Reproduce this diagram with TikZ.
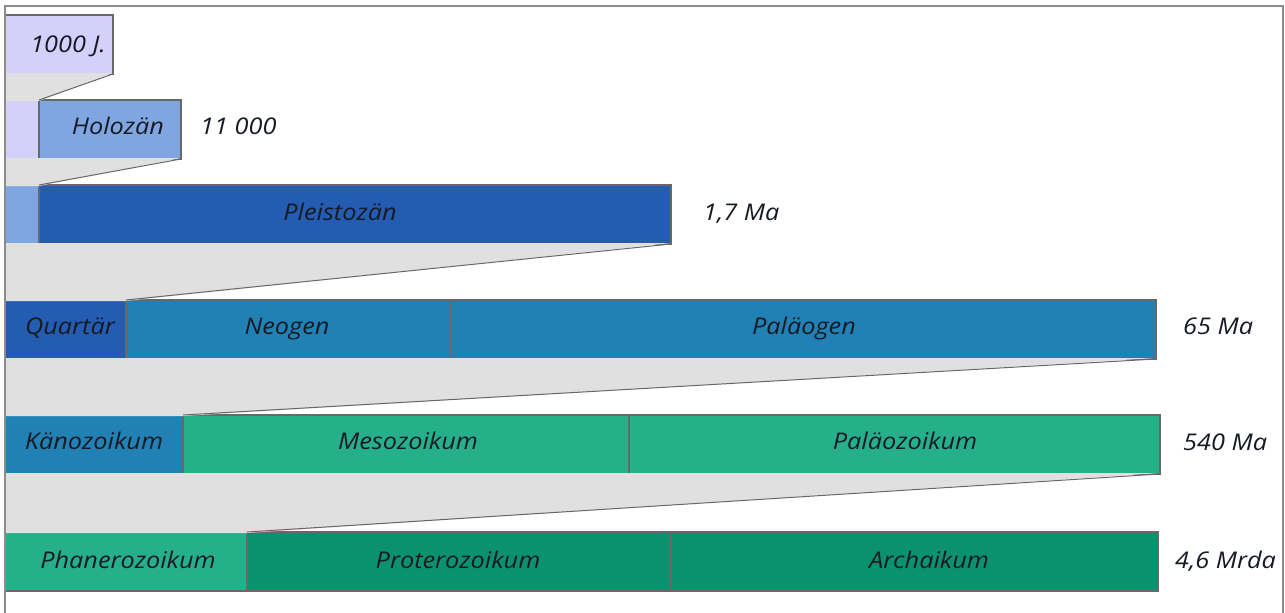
\documentclass[tikz,border=0pt]{standalone}
\usepackage{fontspec}
\setmainfont[FakeStretch=1.1]{Open Sans}
\definecolor{lav}{HTML}{D3D0FA}
\definecolor{holo}{HTML}{80A6E2}
\definecolor{plei}{HTML}{235CB0}
\definecolor{neo}{HTML}{2180B4}
\definecolor{meso}{HTML}{25B089}
\definecolor{arch}{HTML}{0A926E}
\definecolor{shade}{HTML}{E0E0E0}
\definecolor{segline}{HTML}{686868}
\definecolor{frameline}{HTML}{8C8C8C}
\definecolor{txt}{HTML}{161A24}
\begin{document}
\begin{tikzpicture}[x=1pt,y=-1pt,
  seg/.style={draw=segline, line width=2pt, inner sep=0pt, outer sep=0pt,
    anchor=north west, minimum height=59pt},
  lbl/.style={text=txt, font=\fontsize{23}{26}\selectfont\itshape, inner sep=0pt, anchor=base},
  age/.style={lbl, anchor=base west},
  slant/.style={draw=segline, line width=1pt},
  gap/.style={fill=shade}]
\useasboundingbox (0,0) rectangle (1285,613);
\fill[white] (0,0) rectangle (1285,613);
% row 1
\node[seg, fill=lav, minimum width=108pt] (ja) at (5,15) {};
% row 2
\node[seg, fill=lav, minimum width=34pt] (hb) at (5,100) {};
\node[seg, fill=holo, minimum width=142pt] (ho) at (39,100) {};
% row 3
\node[seg, fill=holo, minimum width=34pt] (pb) at (5,185) {};
\node[seg, fill=plei, minimum width=632pt] (pl) at (39,185) {};
% row 4
\node[seg, fill=plei, minimum width=121pt] (qu) at (5,300) {};
\node[seg, fill=neo, minimum width=325pt] (ne) at (126,300) {};
\node[seg, fill=neo, minimum width=705pt] (pg) at (451,300) {};
% row 5
\node[seg, fill=neo, minimum width=178pt] (ka) at (5,415) {};
\node[seg, fill=meso, minimum width=446pt] (me) at (183,415) {};
\node[seg, fill=meso, minimum width=531pt] (pz) at (629,415) {};
% row 6
\node[seg, fill=meso, minimum width=242pt] (ph) at (5,532) {};
\node[seg, fill=arch, minimum width=423pt] (pr) at (247,532) {};
\node[seg, fill=arch, minimum width=488pt] (ar) at (670,532) {};
% gaps
\fill[gap] ([yshift=1pt]ja.south west) -- ([yshift=1pt]ja.south east) -- ([yshift=-1pt]hb.north east) -- ([yshift=-1pt]hb.north west) -- cycle;
\fill[gap] ([yshift=1pt]hb.south west) -- ([yshift=1pt]ho.south east) -- ([yshift=-1pt]pb.north east) -- ([yshift=-1pt]pb.north west) -- cycle;
\fill[gap] ([yshift=1pt]pb.south west) -- ([yshift=1pt]pl.south east) -- ([yshift=-1pt]qu.north east) -- ([yshift=-1pt]qu.north west) -- cycle;
\fill[gap] ([yshift=1pt]qu.south west) -- ([yshift=1pt]pg.south east) -- ([yshift=-1pt]ka.north east) -- ([yshift=-1pt]ka.north west) -- cycle;
\fill[gap] ([yshift=1pt]ka.south west) -- ([yshift=1pt]pz.south east) -- ([yshift=-1pt]ph.north east) -- ([yshift=-1pt]ph.north west) -- cycle;
\draw[slant] (ja.south east) -- (hb.north east);
\draw[slant] (ho.south east) -- (pb.north east);
\draw[slant] (pl.south east) -- (qu.north east);
\draw[slant] (pg.south east) -- (ka.north east);
\draw[slant] (pz.south east) -- (ph.north east);
% frame
\coordinate (fbl) at (5,613);
\coordinate (ftl) at (5,6);
\coordinate (ftr) at (1283,6);
\coordinate (fbr) at (1283,613);
\draw[frameline, line width=2pt] (fbl) -- (ftl) -- (ftr) -- (fbr);
% labels
\node[lbl] (tja) at (68,52) {1000 J.};
\node[lbl] (tho) at (118,134.5) {Holozän};
\node[lbl] (tpl) at (340,220) {Pleistozän};
\node[lbl] (tqu) at (70,334) {Quartär};
\node[lbl] (tne) at (287,334) {Neogen};
\node[lbl] (tpg) at (804,334) {Paläogen};
\node[lbl] (tka) at (94,449) {Känozoikum};
\node[lbl] (tme) at (408,449) {Mesozoikum};
\node[lbl] (tpz) at (905,449) {Paläozoikum};
\node[lbl] (tph) at (128,568) {Phanerozoikum};
\node[lbl] (tpr) at (458,568) {Proterozoikum};
\node[lbl] (tar) at (929,568) {Archaikum};
% ages
\node[age] (a1) at (200,134.5) {11 000};
\node[age] (a2) at (703,220) {1,7 Ma};
\node[age] (a3) at (1183,334) {65 Ma};
\node[age] (a4) at (1183,450) {540 Ma};
\node[age] (a5) at (1175,568) {4,6 Mrda};
\end{tikzpicture}
\end{document}
